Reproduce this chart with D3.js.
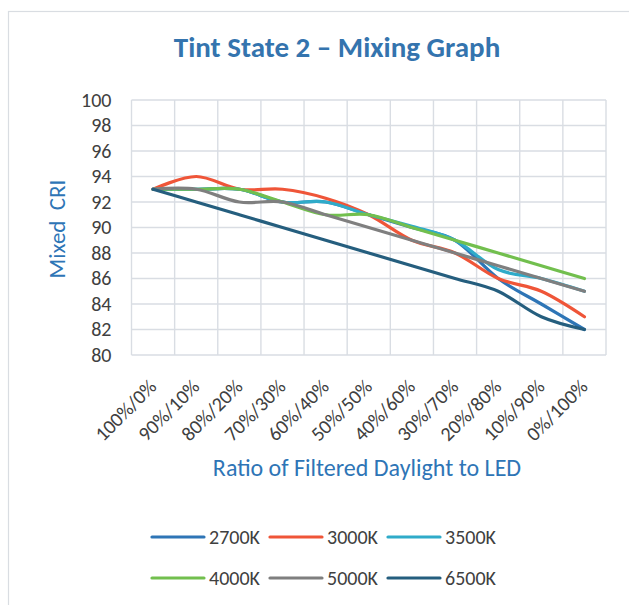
<!DOCTYPE html>
<html>
<head>
<meta charset="utf-8">
<script src="https://cdn.jsdelivr.net/npm/d3@7"></script>
<style>
  html, body { margin: 0; padding: 0; background: #ffffff; }
  svg { display: block; }
  text { font-family: Carlito, Lato, "Open Sans", sans-serif; }
</style>
</head>
<body>
<svg id="chart" width="629" height="605"></svg>
<script>
// Mixing ratios (filtered daylight / LED)
const categories = ["100%/0%", "90%/10%", "80%/20%", "70%/30%", "60%/40%", "50%/50%",
                    "40%/60%", "30%/70%", "20%/80%", "10%/90%", "0%/100%"];

// Mixed CRI per LED colour temperature
const cri2700 = [93, 93, 93, 92, 92, 91, 90, 89, 86, 84, 82];
const cri3000 = [93, 94, 93, 93, 92.3, 91, 89, 88, 86, 85, 83];
const cri3500 = [93, 93, 93, 92, 92, 91, 90.1, 89, 86.7, 86, 85];
const cri4000 = [93, 93, 93, 92, 91, 91, 90, 89, 88, 87, 86];
const cri5000 = [93, 93, 92, 92, 91, 90, 89, 88, 87, 86, 85];
const cri6500 = [93, 92, 91, 90, 89, 88, 87, 86, 85, 83, 82];

const seriesNames = ["2700K", "3000K", "3500K", "4000K", "5000K", "6500K"];
const seriesValues = [cri2700, cri3000, cri3500, cri4000, cri5000, cri6500];
const seriesColors = ["#2e75b6", "#ef5538", "#2fabc9", "#72bf4e", "#7f7f7f", "#255e7e"];

const yTicks = [80, 82, 84, 86, 88, 90, 92, 94, 96, 98, 100];

const svg = d3.select("#chart");
const plot = { left: 131.5, right: 606, top: 100, bottom: 355 };
const FONT = "Carlito, Lato, 'Open Sans', sans-serif";

// Chart area frame
svg.append("rect")
  .attr("x", 8.5).attr("y", 11.5)
  .attr("width", 640).attr("height", 620)
  .attr("fill", "#fff")
  .attr("stroke", "#d9dde2").attr("stroke-width", 1.2);

// Title
svg.append("text")
  .attr("x", 337).attr("y", 57)
  .attr("text-anchor", "middle")
  .attr("font-size", 29).attr("font-weight", "bold")
  .attr("fill", "#3474ae")
  .text("Tint State 2 \u2013 Mixing Graph");

const xBand = d3.scaleBand().domain(categories).range([plot.left, plot.right]).paddingInner(0).paddingOuter(0);
const xPt = d3.scalePoint().domain(categories).range([plot.left, plot.right]).padding(0.5);
const y = d3.scaleLinear().domain([80, 100]).range([plot.bottom, plot.top]);

// Gridlines
const grid = svg.append("g").attr("stroke", "#d9dde3").attr("stroke-width", 1.4);
grid.selectAll("line.h").data(yTicks).join("line")
  .attr("x1", plot.left).attr("x2", plot.right)
  .attr("y1", d => y(d)).attr("y2", d => y(d));
const bounds = categories.map(c => xBand(c)).concat([plot.right]);
grid.selectAll("line.v").data(bounds).join("line")
  .attr("x1", d => d).attr("x2", d => d)
  .attr("y1", plot.top).attr("y2", plot.bottom);

// Y axis labels
const yAxis = svg.append("g")
  .attr("transform", `translate(${plot.left},0)`)
  .call(d3.axisLeft(y).tickValues(yTicks).tickSize(0).tickPadding(20));
yAxis.select(".domain").remove();
yAxis.selectAll("text")
  .attr("font-size", 20).attr("fill", "#404040")
  .style("font-family", FONT);

// X axis labels (rotated)
const xAxis = svg.append("g")
  .attr("transform", `translate(0,${plot.bottom})`)
  .call(d3.axisBottom(xPt).tickSize(0).tickPadding(0));
xAxis.select(".domain").remove();
xAxis.selectAll("text")
  .attr("font-size", 20).attr("fill", "#404040")
  .style("font-family", FONT)
  .attr("text-anchor", "end")
  .attr("dy", 0)
  .attr("transform", "translate(4,33) rotate(-45)");

// Axis titles
svg.append("text")
  .attr("x", 367).attr("y", 476)
  .attr("text-anchor", "middle")
  .attr("font-size", 24).attr("fill", "#2e75b6")
  .text("Ratio of Filtered Daylight to LED");

svg.append("text")
  .attr("transform", "translate(65,229) rotate(-90)")
  .attr("text-anchor", "middle")
  .attr("font-size", 23).attr("fill", "#2e75b6")
  .attr("xml:space", "preserve")
  .style("white-space", "pre")
  .text("Mixed  CRI");

// Series lines
const line = d3.line()
  .x((d, i) => xPt(categories[i]))
  .y(d => y(d))
  .curve(d3.curveCardinal.tension(0));

svg.append("g").selectAll("path").data(seriesValues).join("path")
  .attr("d", d => line(d))
  .attr("fill", "none")
  .attr("stroke", (d, i) => seriesColors[i])
  .attr("stroke-width", 3.2)
  .attr("stroke-linecap", "round")
  .attr("stroke-linejoin", "round");

// Legend: two rows of three
const legendCols = [152, 270, 388];
const legendRows = [537, 578];
const legend = svg.append("g");
seriesNames.forEach((name, i) => {
  const cx = legendCols[i % 3], cy = legendRows[Math.floor(i / 3)];
  legend.append("line")
    .attr("x1", cx).attr("x2", cx + 52)
    .attr("y1", cy).attr("y2", cy)
    .attr("stroke", seriesColors[i]).attr("stroke-width", 3.2)
    .attr("stroke-linecap", "round");
  legend.append("text")
    .attr("x", cx + 57).attr("y", cy + 7)
    .attr("font-size", 20).attr("fill", "#404040")
    .text(name);
});
</script>
</body>
</html>
